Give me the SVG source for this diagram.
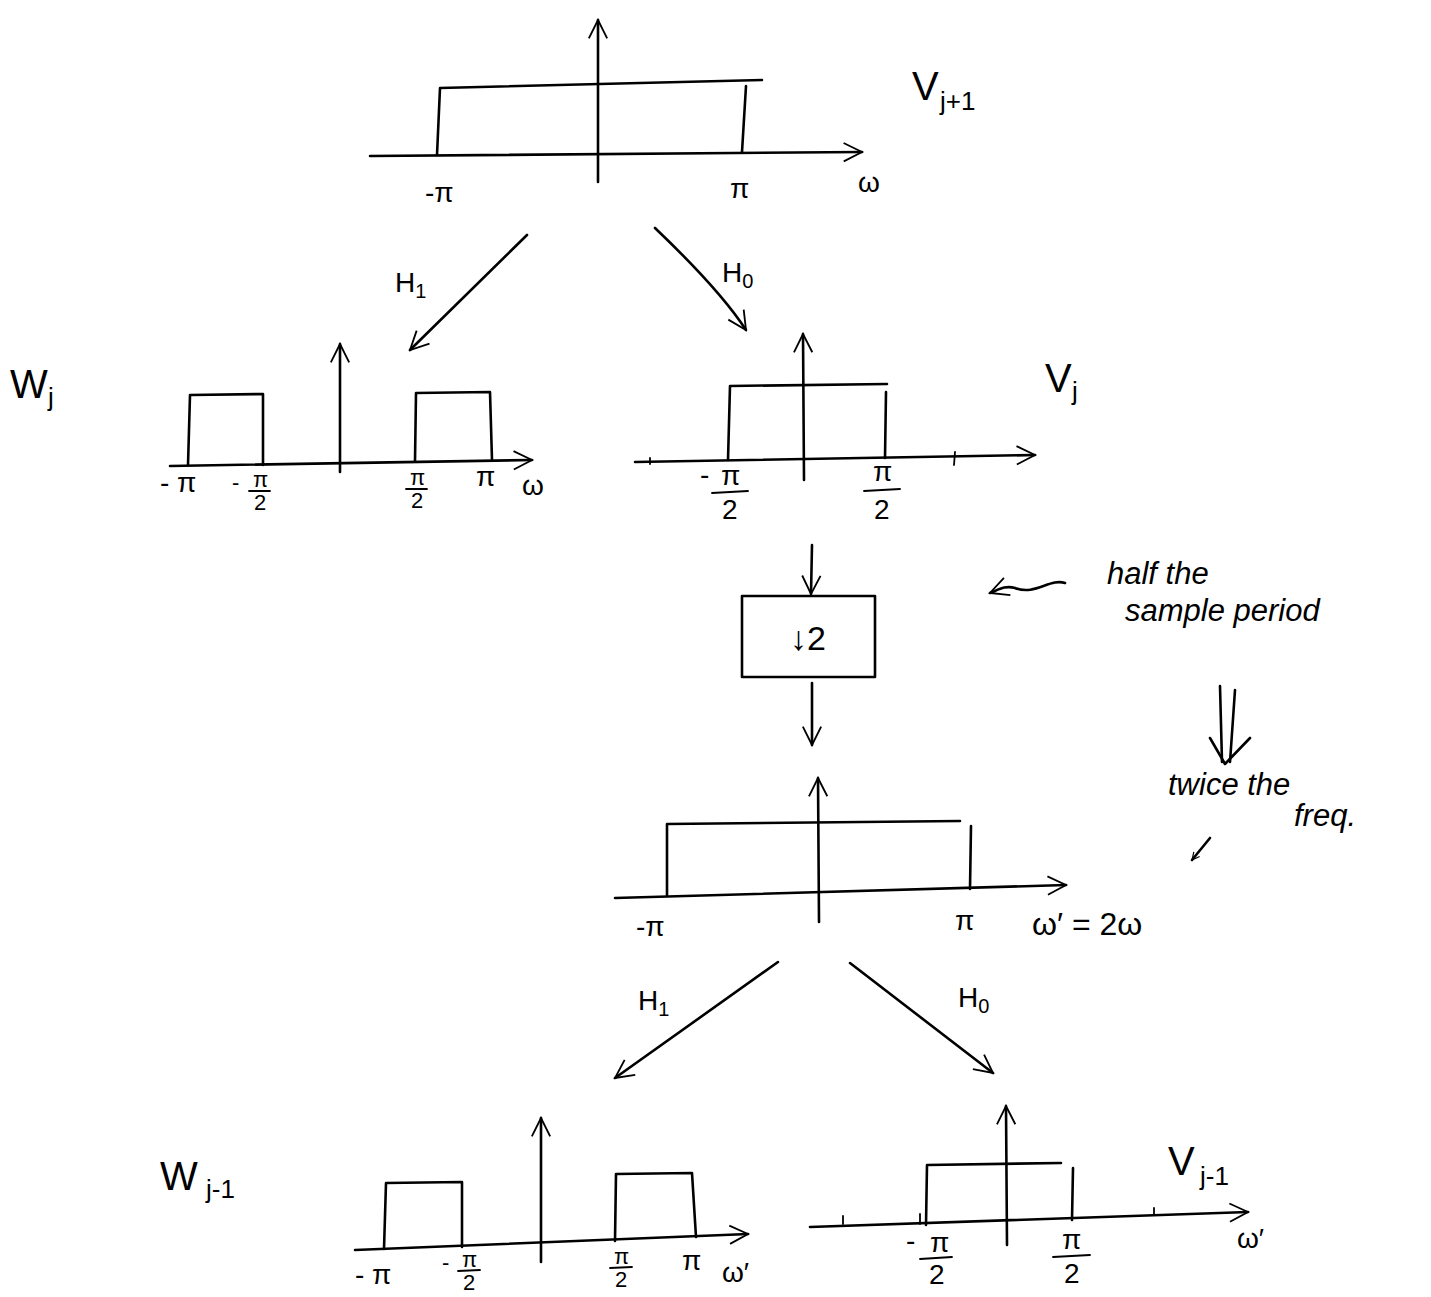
<svg xmlns="http://www.w3.org/2000/svg" width="1431" height="1297" viewBox="0 0 1431 1297">
<style>
.ln{stroke:#000;stroke-width:2.6;fill:none;stroke-linecap:round;stroke-linejoin:round}
.thin{stroke:#000;stroke-width:1.8;fill:none;stroke-linecap:round}
.t{font-family:"Liberation Sans","DejaVu Sans",sans-serif;fill:#000}
.lab{font-size:28px}
.fr{font-size:22px}
.big{font-size:40px}
.sub{font-size:26px}
.note{font-size:31px;font-style:italic}
</style>
<defs>
<marker id="ah" viewBox="0 0 12 12" refX="11" refY="6" markerWidth="9" markerHeight="9" orient="auto" markerUnits="userSpaceOnUse">
<path d="M1,1 L11,6 L1,11" fill="none" stroke="#000" stroke-width="1.6"/>
</marker>
<marker id="ahb" viewBox="0 0 12 12" refX="11" refY="6" markerWidth="22" markerHeight="22" orient="auto" markerUnits="userSpaceOnUse">
<path d="M1,1 L11,6 L1,11" fill="none" stroke="#000" stroke-width="1"/>
</marker>
</defs>
<rect width="1431" height="1297" fill="#fff"/>

<g id="plot_vj1">
<line class="ln" x1="370" y1="156" x2="862" y2="152" marker-end="url(#ahb)"/>
<line class="ln" x1="598" y1="182" x2="598" y2="20" marker-end="url(#ahb)"/>
<polyline class="ln" points="437,155 440,88 762,80"/>
<line class="ln" x1="742" y1="152" x2="746" y2="86"/>
<text class="t lab" x="425" y="202">-π</text>
<text class="t lab" x="730" y="198">π</text>
<text class="t lab" x="858" y="192">ω</text>
<text class="t big" x="912" y="100">V</text>
<text class="t sub" x="940" y="110">j+1</text>
</g>

<g id="plot_wj">
<text class="t big" x="10" y="398">W</text>
<text class="t sub" x="48" y="406">j</text>
<line class="ln" x1="170" y1="466" x2="532" y2="460" marker-end="url(#ahb)"/>
<line class="ln" x1="340" y1="472" x2="340" y2="344" marker-end="url(#ahb)"/>
<polyline class="ln" points="188,465 190,395 263,394 263,465"/>
<polyline class="ln" points="415,461 416,393 490,392 492,460"/>
<text class="t lab" x="160" y="492">- π</text>
<text class="t fr" x="232" y="490">-</text>
<text class="t fr" x="253" y="487">π</text>
<line class="thin" x1="249" y1="491" x2="270" y2="491"/>
<text class="t fr" x="254" y="510">2</text>
<text class="t fr" x="410" y="485">π</text>
<line class="thin" x1="406" y1="489" x2="427" y2="489"/>
<text class="t fr" x="411" y="508">2</text>
<text class="t lab" x="476" y="486">π</text>
<text class="t lab" x="522" y="495">ω</text>
</g>

<g id="plot_vj">
<line class="ln" x1="635" y1="462" x2="1035" y2="455" marker-end="url(#ahb)"/>
<line class="ln" x1="804" y1="480" x2="803" y2="334" marker-end="url(#ahb)"/>
<polyline class="ln" points="728,460 730,386 887,384"/>
<line class="ln" x1="885" y1="458" x2="886" y2="392"/>
<line class="thin" x1="955" y1="452" x2="954" y2="465"/>
<line class="thin" x1="650" y1="458" x2="650" y2="464"/>
<text class="t lab" x="700" y="484">-</text>
<text class="t lab" x="721" y="485">π</text>
<line class="thin" x1="712" y1="493" x2="748" y2="491"/>
<text class="t lab" x="722" y="519">2</text>
<text class="t lab" x="873" y="481">π</text>
<line class="thin" x1="864" y1="491" x2="900" y2="489"/>
<text class="t lab" x="874" y="519">2</text>
<text class="t big" x="1045" y="392">V</text>
<text class="t sub" x="1072" y="400">j</text>
</g>

<g id="box_down2">
<rect class="ln" x="742" y="596" width="133" height="81"/>
<text class="t" x="808" y="650" font-size="34" text-anchor="middle">↓2</text>
</g>

<g id="plot_mid">
<line class="ln" x1="615" y1="898" x2="1066" y2="885" marker-end="url(#ahb)"/>
<line class="ln" x1="819" y1="922" x2="818" y2="778" marker-end="url(#ahb)"/>
<polyline class="ln" points="667,896 667,824 960,821"/>
<line class="ln" x1="970" y1="889" x2="971" y2="826"/>
<text class="t lab" x="636" y="936">-π</text>
<text class="t lab" x="955" y="930">π</text>
<text class="t" x="1032" y="935" font-size="32">ω′ = 2ω</text>
</g>

<g id="plot_wj1">
<text class="t big" x="160" y="1190">W</text>
<text class="t sub" x="206" y="1198">j-1</text>
<line class="ln" x1="355" y1="1250" x2="748" y2="1234" marker-end="url(#ahb)"/>
<line class="ln" x1="541" y1="1262" x2="541" y2="1118" marker-end="url(#ahb)"/>
<polyline class="ln" points="384,1249 386,1183 462,1182 462,1247"/>
<polyline class="ln" points="615,1241 616,1174 692,1173 696,1237"/>
<text class="t lab" x="355" y="1284">- π</text>
<text class="t fr" x="442" y="1270">-</text>
<text class="t fr" x="462" y="1267">π</text>
<line class="thin" x1="458" y1="1271" x2="480" y2="1270"/>
<text class="t fr" x="463" y="1290">2</text>
<text class="t fr" x="614" y="1264">π</text>
<line class="thin" x1="610" y1="1268" x2="632" y2="1267"/>
<text class="t fr" x="615" y="1287">2</text>
<text class="t lab" x="682" y="1270">π</text>
<text class="t lab" x="722" y="1282">ω′</text>
</g>

<g id="plot_vj_1">
<line class="ln" x1="810" y1="1227" x2="1248" y2="1212" marker-end="url(#ahb)"/>
<line class="ln" x1="1007" y1="1245" x2="1006" y2="1106" marker-end="url(#ahb)"/>
<polyline class="ln" points="926,1225 927,1165 1061,1163"/>
<line class="ln" x1="1072" y1="1220" x2="1073" y2="1168"/>
<line class="thin" x1="843" y1="1224" x2="843" y2="1216"/>
<line class="thin" x1="1154" y1="1215" x2="1154" y2="1208"/>
<line class="thin" x1="920" y1="1224" x2="920" y2="1214"/>
<text class="t lab" x="906" y="1250">-</text>
<text class="t lab" x="930" y="1252">π</text>
<line class="thin" x1="920" y1="1259" x2="952" y2="1257"/>
<text class="t lab" x="929" y="1284">2</text>
<text class="t lab" x="1062" y="1249">π</text>
<line class="thin" x1="1053" y1="1257" x2="1090" y2="1255"/>
<text class="t lab" x="1064" y="1283">2</text>
<text class="t lab" x="1237" y="1248">ω′</text>
<text class="t big" x="1168" y="1175">V</text>
<text class="t sub" x="1200" y="1185">j-1</text>
</g>

<g id="notes">
<text class="t note" x="1107" y="584">half the</text>
<text class="t note" x="1125" y="621">sample period</text>
<text class="t note" x="1168" y="795">twice the</text>
<text class="t note" x="1294" y="826">freq.</text>
</g>

<g id="connectors">
<line class="ln" x1="527" y1="235" x2="410" y2="350" marker-end="url(#ahb)"/>
<text class="t lab" x="395" y="292">H<tspan font-size="20" dy="6">1</tspan></text>
<path class="ln" d="M655,228 Q720,290 746,330" marker-end="url(#ahb)"/>
<text class="t lab" x="722" y="282">H<tspan font-size="20" dy="6">0</tspan></text>
<line class="ln" x1="812" y1="545" x2="811" y2="594" marker-end="url(#ahb)"/>
<line class="ln" x1="812" y1="683" x2="812" y2="745" marker-end="url(#ahb)"/>
<path class="ln" d="M1065,583 C1050,578 1035,596 1015,588 C1005,585 998,590 990,593" marker-end="url(#ahb)"/>
<line class="ln" x1="1220" y1="686" x2="1222" y2="762"/>
<line class="ln" x1="1235" y1="690" x2="1230" y2="762"/>
<polyline class="ln" points="1210,738 1225,764 1250,738"/>
<line class="ln" x1="1210" y1="838" x2="1192" y2="860" marker-end="url(#ah)"/>
<line class="ln" x1="778" y1="962" x2="615" y2="1078" marker-end="url(#ahb)"/>
<text class="t lab" x="638" y="1010">H<tspan font-size="20" dy="6">1</tspan></text>
<line class="ln" x1="850" y1="963" x2="993" y2="1073" marker-end="url(#ahb)"/>
<text class="t lab" x="958" y="1007">H<tspan font-size="20" dy="6">0</tspan></text>
</g>
</svg>
